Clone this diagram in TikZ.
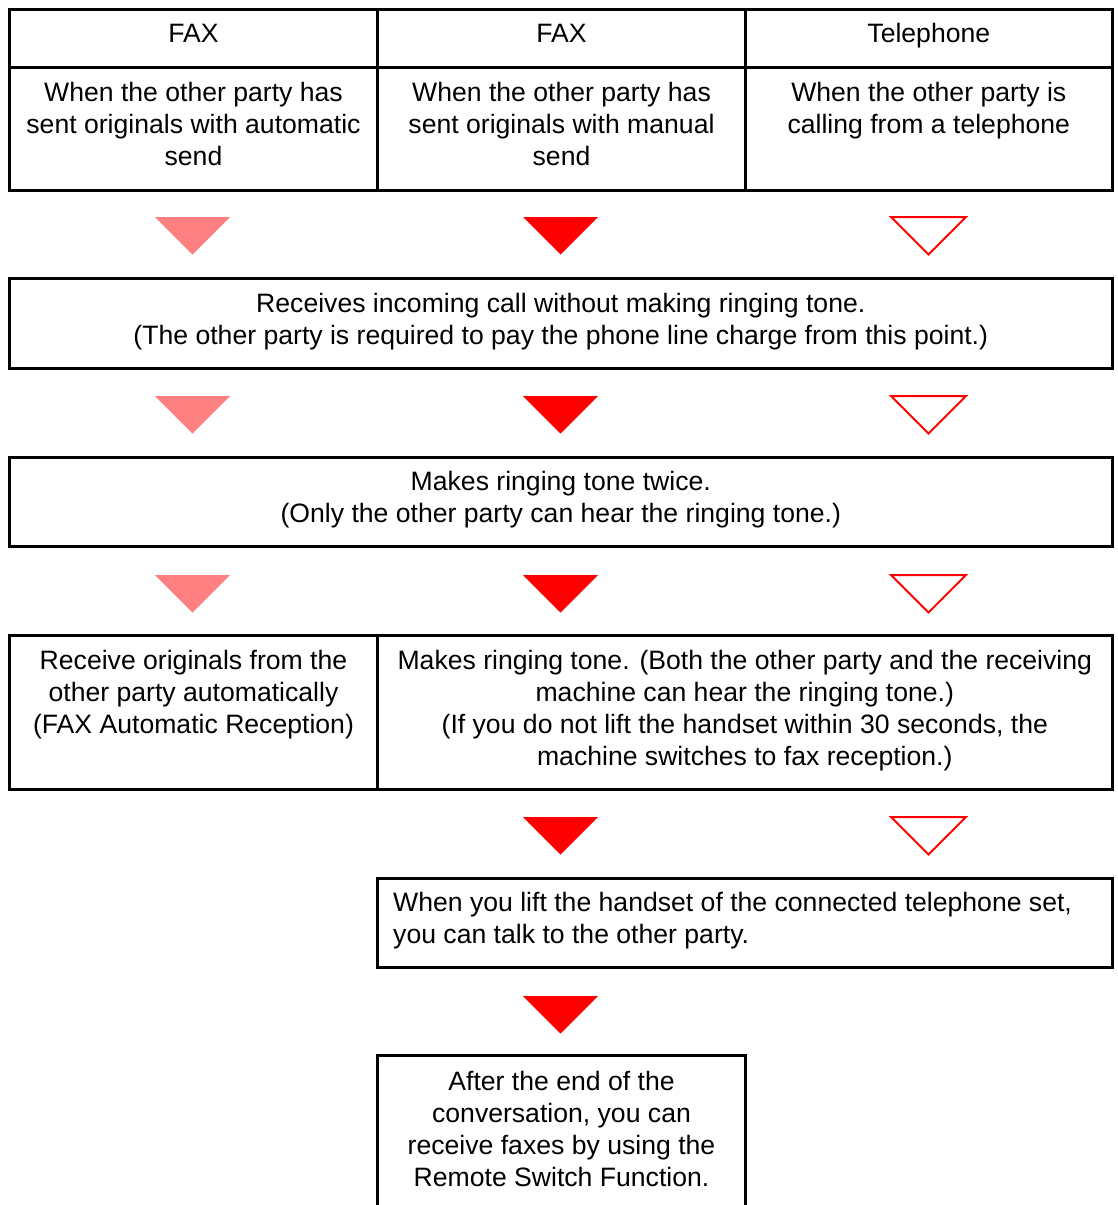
\documentclass[tikz,border=0pt]{standalone}
\usepackage{fontspec}
\setmainfont{Liberation Sans}
\definecolor{pinkc}{RGB}{255,128,128}
\definecolor{redc}{RGB}{255,0,0}
\begin{document}
\begin{tikzpicture}[x=1pt,y=-1pt,
  frame/.style={line width=3pt, line cap=rect},
  txt/.style={font=\fontsize{26.6}{32}\selectfont, inner sep=0pt, anchor=north, align=center, execute at begin node=\strut},
  txtl/.style={txt, anchor=north west, align=left},
  down/.pic={\path[pic actions] (-37.5,0) -- (37.5,0) -- (0,37.5) -- cycle;},
  tpink/.style={fill=pinkc},
  tred/.style={fill=redc},
  topen/.style={draw=redc, line width=2pt, fill=white}]
\useasboundingbox (0,0) rectangle (1117,1205);
\clip (0,0) rectangle (1117,1205);
% header table
\draw[frame] (9.5,9) rectangle (1112,190);
\draw[frame] (9.5,67.5) -- (1112,67.5);
\draw[frame] (377.5,9) -- (377.5,190);
\draw[frame] (745.5,9) -- (745.5,190);
\node[txt] (h1) at (193.5,42.5-22.4) {FAX};
\node[txt] (h2) at (561.5,42.5-22.4) {FAX};
\node[txt] (h3) at (928.8,42.5-22.4) {Telephone};
\node[txt] (c1) at (193.5,104.5-22.4) {When the other party has\\sent originals with automatic\\send};
\node[txt] (c2) at (561.5,104.5-22.4) {When the other party has\\sent originals with manual\\send};
\node[txt] (c3) at (928.8,104.5-22.4) {When the other party is\\calling from a telephone};
% row 1 triangles
\pic[tpink] at (192.5,217) {down};
\pic[tred] at (560.5,217) {down};
\pic[topen] at (928.5,217) {down};
% box 2
\draw[frame] (9.5,278) rectangle (1112,368);
\node[txt] (b2) at (560.8,315.5-22.4) {Receives incoming call without making ringing tone.\\(The other party is required to pay the phone line charge from this point.)};
% row 2 triangles
\pic[tpink] at (192.5,396) {down};
\pic[tred] at (560.5,396) {down};
\pic[topen] at (928.5,396) {down};
% box 3
\draw[frame] (9.5,457) rectangle (1112,546.5);
\node[txt] (b3) at (560.8,493.5-22.4) {Makes ringing tone twice.\\(Only the other party can hear the ringing tone.)};
% row 3 triangles
\pic[tpink] at (192.5,575) {down};
\pic[tred] at (560.5,575) {down};
\pic[topen] at (928.5,575) {down};
% box 4
\draw[frame] (9.5,635) rectangle (1112,789);
\draw[frame] (377.5,635) -- (377.5,789);
\node[txt] (b4l) at (193.5,672.5-22.4) {Receive originals from the\\other party automatically\\(FAX Automatic Reception)};
\node[txt] (b4r) at (744.8,672.5-22.4) {Makes ringing tone. (Both the other party and the receiving\\machine can hear the ringing tone.)\\(If you do not lift the handset within 30 seconds, the\\machine switches to fax reception.)};
% row 4 triangles
\pic[tred] at (560.5,817) {down};
\pic[topen] at (928.5,817) {down};
% box 5
\draw[frame] (377.5,878) rectangle (1112,967);
\node[txtl] (b5) at (393,914.5-22.4) {When you lift the handset of the connected telephone set,\\you can talk to the other party.};
% row 5 triangle
\pic[tred] at (560.5,996) {down};
% box 6
\draw[frame] (377.5,1215) -- (377.5,1055) -- (745.5,1055) -- (745.5,1215);
\node[txt] (b6) at (561.5,1093.5-22.4) {After the end of the\\conversation, you can\\receive faxes by using the\\Remote Switch Function.};
\end{tikzpicture}
\end{document}
